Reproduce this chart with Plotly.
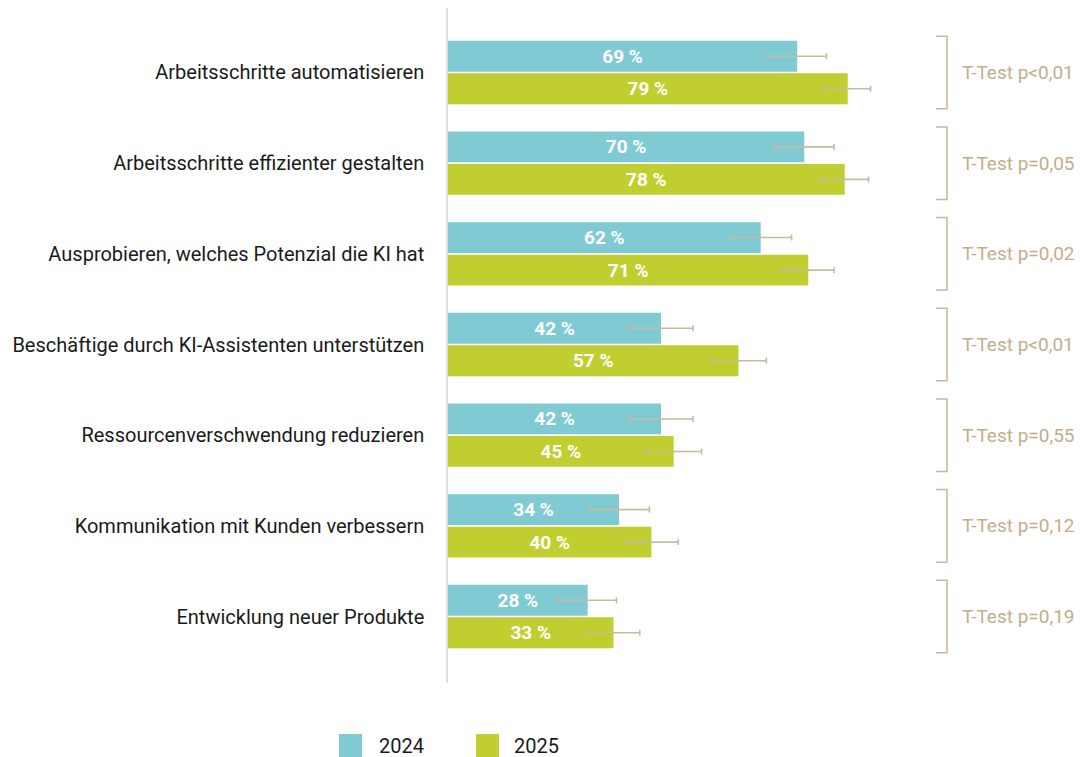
import plotly.graph_objects as go

categories = [
    "Arbeitsschritte automatisieren",
    "Arbeitsschritte effizienter gestalten",
    "Ausprobieren, welches Potenzial die KI hat",
    "Beschäftige durch KI-Assistenten unterstützen",
    "Ressourcenverschwendung reduzieren",
    "Kommunikation mit Kunden verbessern",
    "Entwicklung neuer Produkte",
]
values_2024 = [69.0, 70.4, 61.8, 42.1, 42.1, 33.8, 27.6]
errors_2024 = [5.8, 5.9, 6.1, 6.3, 6.3, 6.0, 5.7]
values_2025 = [79.0, 78.4, 71.2, 57.4, 44.6, 40.2, 32.7]
errors_2025 = [4.5, 4.7, 5.1, 5.5, 5.5, 5.3, 5.2]
ttests = ["T-Test p<0,01", "T-Test p=0,05", "T-Test p=0,02", "T-Test p<0,01",
          "T-Test p=0,55", "T-Test p=0,12", "T-Test p=0,19"]
series_names = ["2024", "2025"]

C24 = "#80cad3"
C25 = "#c0cf2f"
ERR = "#c8baa0"
TAN = "#c9b795"
TAN_TXT = "#c2ae88"
FONT = "Roboto"

# page body has an 8px margin; figure is sized so the picture lands where wanted
OFF = 8
FIG_W, FIG_H = 1085 - OFF, 757 - OFF
PLOT_L, PLOT_R, PLOT_T, PLOT_B = 448, 900, 8, 683   # page pixels
W = PLOT_R - PLOT_L
H = PLOT_B - PLOT_T

fig = go.Figure()
for name, vals, errs, col in [(series_names[0], values_2024, errors_2024, C24),
                              (series_names[1], values_2025, errors_2025, C25)]:
    fig.add_trace(go.Bar(
        name=name, y=categories, x=vals, orientation="h",
        marker=dict(color=col, line=dict(width=0)),
        error_x=dict(type="data", array=errs, visible=True, color=ERR,
                     thickness=1.6, width=3),
        text=[f"{round(v)} %" for v in vals],
        textposition="inside", insidetextanchor="middle", textangle=0,
        textfont=dict(family=FONT, size=19, color="white", weight="bold"),
        constraintext="none",
        showlegend=False,
        hoverinfo="x+y",
    ))


def px(xp):
    return (xp - PLOT_L) / W


def py(yp):
    return (PLOT_B - yp) / H


shapes = []
annotations = []
XB = px(947)
XT = px(936)
for i, t in enumerate(ttests):
    y0, y1 = i - 0.40, i + 0.40
    shapes.append(dict(type="path", xref="paper", yref="y",
                       path=f"M {XT},{y0} L {XB},{y0} L {XB},{y1} L {XT},{y1}",
                       line=dict(color=TAN, width=1.5)))
    annotations.append(dict(text=t, xref="paper", yref="y", x=px(960), y=i,
                            xanchor="left", yanchor="middle", showarrow=False,
                            font=dict(family=FONT, size=19, color=TAN_TXT)))

# legend drawn as squares + text
for name, col, xs, xt in [(series_names[0], C24, 339, 377), (series_names[1], C25, 476, 512)]:
    shapes.append(dict(type="rect", xref="paper", yref="paper",
                       x0=px(xs), x1=px(xs + 23), y0=py(734), y1=py(757),
                       fillcolor=col, line=dict(width=0)))
    annotations.append(dict(text=name, xref="paper", yref="paper", x=px(xt), y=py(746),
                            xanchor="left", yanchor="middle", showarrow=False,
                            font=dict(family=FONT, size=20, color="#1a1a1a")))

fig.update_layout(
    width=FIG_W, height=FIG_H,
    margin=dict(l=PLOT_L - OFF, r=FIG_W - (PLOT_R - OFF), t=PLOT_T - OFF,
                b=FIG_H - (PLOT_B - OFF), pad=0),
    paper_bgcolor="white", plot_bgcolor="white",
    barmode="group", bargap=0.283, bargroupgap=0.05,
    font=dict(family=FONT, size=20, color="#1a1a1a"),
    shapes=shapes, annotations=annotations,
    xaxis=dict(range=[0, W / 5.06], visible=False, fixedrange=True),
    yaxis=dict(range=[6.733, -0.711], showline=True, linecolor="#e0e0e0", linewidth=1.5,
               showgrid=False, zeroline=False, ticks="", ticklabelstandoff=18,
               tickfont=dict(family=FONT, size=20, color="#1a1a1a"), fixedrange=True),
)

fig.write_html("out.html")
